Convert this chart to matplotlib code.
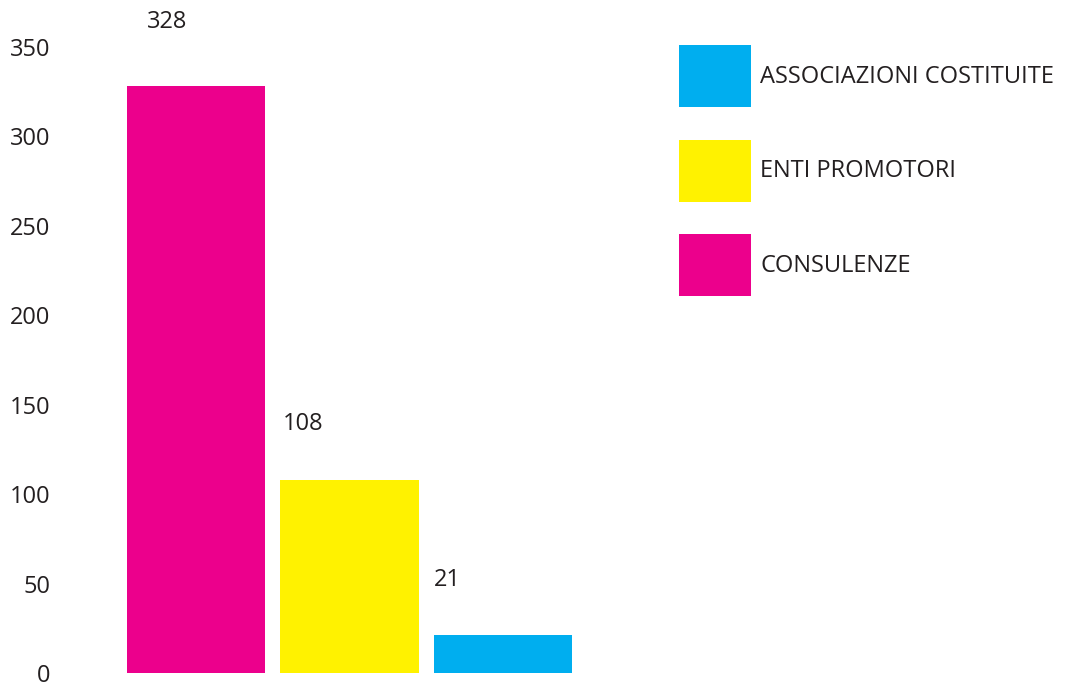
import matplotlib.pyplot as plt

# Data
categories = ['CONSULENZE', 'ENTI PROMOTORI', 'ASSOCIAZIONI COSTITUITE']
values = [328, 108, 21]
colors = ['#EC008C', '#FFF200', '#00AEEF']
yticks = [0, 50, 100, 150, 200, 250, 300, 350]

TEXT = '#231F20'
plt.rcParams['font.family'] = ['Open Sans', 'DejaVu Sans']

fig = plt.figure(figsize=(10.65, 6.84), dpi=100)
# axes placed in pixels: left 60, right 650, bottom at 673 px from top
W, H = 1065, 684
ax = fig.add_axes([60 / W, (H - 673) / H, 590 / W, 662 / H])

x = list(range(len(values)))
bars = ax.bar(x, values, width=0.905, color=colors, label=categories)

ax.set_xlim(-0.886, 2.958)
ax.set_ylim(0, 370)
ax.set_yticks(yticks)
ax.set_xticks([])
ax.tick_params(axis='y', length=0, pad=7, labelsize=17, labelcolor=TEXT)
for s in ax.spines.values():
    s.set_visible(False)

# value labels sit a bit above and left of each bar's centre
label_dx = [-0.19, -0.30, -0.36]
label_dy = [36, 31, 31]
for xi, v, dx, dy in zip(x, values, label_dx, label_dy):
    ax.text(xi + dx, v + dy, str(v), ha='center', va='center',
            fontsize=17, color=TEXT)

handles = list(bars.patches)[::-1]
labels = categories[::-1]
fs = 17
fpx = fs * 100 / 72
# legend handle height = fs*(0.65*hh + 0.245); solve for a 62 px swatch
hh = (62 / fpx - 0.245) / 0.65
fig.legend(handles, labels, loc='upper left',
           bbox_to_anchor=(679 / W, 1 - 45 / H),
           frameon=False, fontsize=fs, labelcolor=TEXT,
           borderpad=0, borderaxespad=0,
           handlelength=72 / fpx, handleheight=hh,
           handletextpad=9 / fpx, labelspacing=32.5 / fpx)

fig.savefig('out.png', dpi=100)
